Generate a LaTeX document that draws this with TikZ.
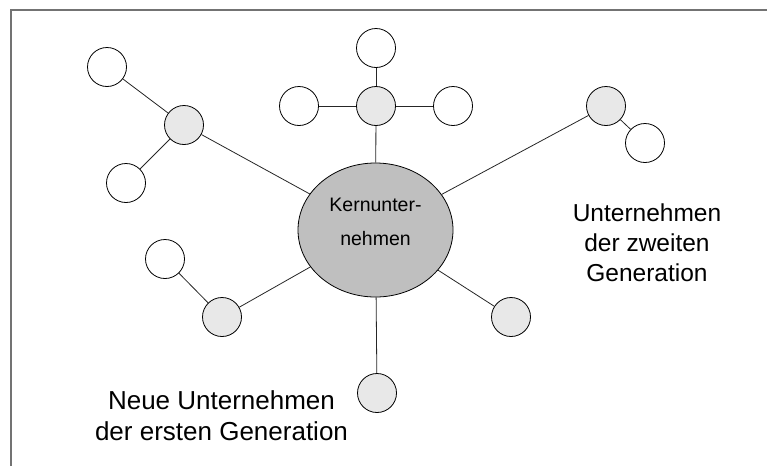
\documentclass[tikz,border=0pt]{standalone}
\usepackage{fontspec}
\setmainfont{Liberation Sans}
\usetikzlibrary{shapes.geometric}

\tikzset{
  link/.style={draw=black!85, line width=0.8pt},
  firm/.style={circle, draw=black, line width=0.8pt, minimum size=39pt, inner sep=0pt},
  gen1/.style={firm, fill=black!9},
  gen2/.style={firm, fill=white},
  core/.style={ellipse, draw=black, line width=0.8pt, fill=black!25,
               minimum width=155pt, minimum height=134pt, inner sep=0pt},
  frameline/.style={draw=black!55, line width=1.5pt},
  caption/.style={align=center, inner sep=0pt}
}

\begin{document}
\begin{tikzpicture}[x=1pt, y=-1pt]
  % canvas
  \useasboundingbox (0,0) rectangle (767,466);
  \coordinate (frameBL) at (11,466);
  \coordinate (frameTL) at (11,10);
  \coordinate (frameTR) at (767,10);
  \draw[frameline] (frameBL) -- (frameTL) -- (frameTR);

  % core company
  \node[core] (core) at (375.5,230) {};
  \node[caption, font=\fontsize{19.5}{34}\selectfont] (corelabel) at (375.5,222)
    {Kernunter-\\nehmen};

  % first generation
  \node[gen1] (g1nw) at (184,125) {};
  \node[gen1] (g1n)  at (376,106) {};
  \node[gen1] (g1ne) at (606,106) {};
  \node[gen1] (g1sw) at (222,317) {};
  \node[gen1] (g1se) at (511,317) {};
  \node[gen1] (g1s)  at (377,393) {};

  % second generation
  \node[gen2] (g2a) at (107,67) {};
  \node[gen2] (g2b) at (126,183) {};
  \node[gen2] (g2c) at (376,48) {};
  \node[gen2] (g2d) at (299,106) {};
  \node[gen2] (g2e) at (453,106) {};
  \node[gen2] (g2f) at (645,143) {};
  \node[gen2] (g2g) at (165,259) {};

  % links from the core
  \foreach \t in {g1nw,g1n,g1ne,g1sw,g1se,g1s}
    \draw[link] (core) -- (\t);

  % links to the second generation
  \draw[link] (g1nw) -- (g2a);
  \draw[link] (g1nw) -- (g2b);
  \draw[link] (g1n)  -- (g2c);
  \draw[link] (g1n)  -- (g2d);
  \draw[link] (g1n)  -- (g2e);
  \draw[link] (g1ne) -- (g2f);
  \draw[link] (g1sw) -- (g2g);

  % captions
  \node[caption, font=\fontsize{24.5}{30}\selectfont] (cap2) at (647,243)
    {Unternehmen\\der zweiten\\Generation};
  \node[caption, font=\fontsize{26}{31}\selectfont] (cap1) at (221.5,416)
    {Neue Unternehmen\\der ersten Generation};
\end{tikzpicture}
\end{document}
